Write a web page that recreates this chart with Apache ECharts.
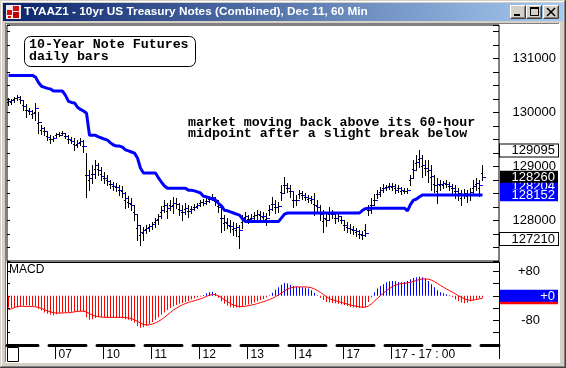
<!DOCTYPE html>
<html><head><meta charset="utf-8">
<script src="https://cdn.jsdelivr.net/npm/echarts@6/dist/echarts.min.js"></script>
<style>html,body{margin:0;padding:0;background:#fff}#c{width:566px;height:368px}</style>
</head><body><div id="c"></div>
<script>
// ---------- data ----------
const dayLabels = ['07','10','11','12','13','14','17','17 - 17 : 00'];
const dayStarts = [16,32,48,64,80,96,112,128];
const slotCount = 164;

const barHigh = [
130.27,130.25,130.29,130.32,130.31,130.23,130.16,130.08,130.05,130.18,
130.01,129.77,129.73,129.64,129.58,129.56,
129.62,129.64,129.66,129.62,129.58,129.55,129.53,129.49,129.53,129.49,129.25,128.94,129.03,129.12,129.07,128.99,
128.90,128.84,128.75,128.71,128.69,128.66,128.64,128.53,128.45,128.42,128.29,128.10,127.92,127.88,127.92,127.94,
127.97,128.05,128.12,128.27,128.38,128.32,128.38,128.43,128.42,128.32,128.29,128.32,128.29,128.27,128.30,128.32,
128.38,128.40,128.42,128.45,128.49,128.43,128.38,128.29,128.10,128.05,128.01,127.97,127.95,127.92,128.10,128.16,
128.10,128.12,128.16,128.19,128.18,128.16,128.14,128.29,128.43,128.38,128.34,128.66,128.80,128.69,128.66,128.53,
128.47,128.56,128.55,128.51,128.47,128.45,128.51,128.38,128.29,128.19,128.16,128.25,128.19,128.14,128.12,128.08,
128.01,127.97,127.94,127.90,127.86,127.82,127.81,127.94,128.29,128.42,128.49,128.56,128.62,128.68,128.66,128.69,
128.69,128.68,128.66,128.62,128.60,128.60,128.84,129.12,129.21,129.30,129.21,129.12,129.12,129.03,128.84,128.79,
128.75,128.73,128.75,128.71,128.68,128.66,128.60,128.56,128.58,128.56,128.60,128.75,128.79,128.75,129.03];

const barLow = [
130.14,130.16,130.20,130.23,130.18,130.05,129.92,129.97,129.90,129.86,
129.62,129.60,129.58,129.49,129.44,129.47,
129.55,129.57,129.58,129.53,129.44,129.44,129.31,129.36,129.40,129.27,128.44,128.57,128.69,128.79,128.84,128.75,
128.69,128.66,128.60,128.57,128.55,128.47,128.44,128.23,128.25,128.19,128.01,127.64,127.55,127.64,127.77,127.81,
127.84,127.88,127.94,128.05,128.16,128.05,128.19,128.14,128.23,128.10,128.01,128.12,128.06,128.14,128.19,128.23,
128.27,128.29,128.31,128.34,128.38,128.29,128.16,127.79,127.82,127.86,127.79,127.73,127.71,127.49,127.86,127.97,
127.95,127.97,128.01,128.01,128.03,127.97,127.92,128.10,128.19,128.14,128.16,128.38,128.51,128.53,128.44,128.25,
128.29,128.42,128.40,128.38,128.34,128.32,128.10,128.16,128.01,127.79,127.90,128.01,128.05,127.95,127.99,127.95,
127.82,127.79,127.77,127.75,127.71,127.68,127.66,127.71,128.10,128.14,128.29,128.42,128.45,128.53,128.57,128.58,
128.57,128.51,128.53,128.49,128.51,128.51,128.66,128.79,128.94,128.99,128.80,128.84,128.71,128.57,128.53,128.32,
128.57,128.60,128.62,128.57,128.51,128.42,128.38,128.29,128.42,128.34,128.38,128.47,128.57,128.45,128.75];

const barClose = [
130.21,130.23,130.27,130.29,130.23,130.12,130.05,130.03,129.99,130.08,
129.82,129.71,129.66,129.55,129.51,129.53,
129.60,129.58,129.62,129.57,129.51,129.47,129.40,129.44,129.47,129.38,128.84,128.79,128.86,129.03,128.94,128.83,
128.79,128.73,128.68,128.64,128.62,128.57,128.51,128.42,128.32,128.29,128.12,127.92,127.79,127.82,127.86,127.90,
127.94,128.01,128.08,128.19,128.29,128.23,128.27,128.32,128.30,128.19,128.16,128.23,128.17,128.21,128.25,128.29,
128.34,128.32,128.36,128.40,128.43,128.38,128.25,128.05,127.97,127.92,127.90,127.86,127.88,127.82,128.05,128.08,
128.03,128.05,128.10,128.12,128.08,128.08,128.05,128.21,128.30,128.25,128.27,128.51,128.66,128.60,128.55,128.38,
128.38,128.51,128.47,128.43,128.42,128.40,128.29,128.25,128.12,128.05,128.01,128.16,128.12,128.05,128.08,128.01,
127.92,127.86,127.84,127.82,127.81,127.75,127.73,127.77,128.19,128.29,128.38,128.49,128.57,128.60,128.62,128.64,
128.64,128.57,128.60,128.57,128.55,128.57,128.79,128.94,129.08,129.16,129.03,128.97,128.94,128.82,128.66,128.68,
128.68,128.69,128.68,128.64,128.60,128.55,128.51,128.47,128.51,128.47,128.53,128.64,128.69,128.66,128.81];

const midpoint = [
130.69,130.69,130.69,130.69,130.69,130.69,130.69,130.69,130.69,130.66,
130.56,130.49,130.47,130.45,130.44,130.40,130.40,130.40,130.40,130.32,
130.21,130.19,130.18,130.10,130.06,130.03,129.99,129.58,129.58,129.58,
129.55,129.53,129.51,129.49,129.44,129.40,129.38,129.38,129.36,129.31,
129.29,129.27,129.25,129.16,128.97,128.88,128.88,128.88,128.88,128.88,
128.79,128.71,128.64,128.60,128.60,128.60,128.60,128.60,128.60,128.60,
128.56,128.56,128.55,128.53,128.51,128.45,128.44,128.42,128.40,128.38,
128.32,128.27,128.19,128.18,128.16,128.14,128.12,128.10,128.03,127.98,
127.98,127.98,127.98,127.98,127.98,127.98,127.98,127.98,127.98,127.98,
127.98,128.05,128.12,128.14,128.14,128.14,128.14,128.14,128.14,128.14,
128.14,128.14,128.14,128.14,128.14,128.14,128.14,128.14,128.14,128.14,
128.14,128.14,128.14,128.14,128.14,128.14,128.14,128.14,128.19,128.22,
128.23,128.23,128.23,128.23,128.23,128.23,128.23,128.23,128.23,128.23,
128.23,128.23,128.23,128.18,128.30,128.38,128.40,128.44,128.475,128.475,
128.475,128.475,128.475,128.475,128.475,128.475,128.475,128.475,128.475,128.475,
128.475,128.475,128.475,128.475,128.475,128.475,128.475,128.475,128.475];

const macdHist = [
-38,-40,-40,-38,-34,-32,-31,-32,-33,-35,-42,-48,-54,-58,-62,-63,
-60,-57,-55,-54,-53,-52,-52,-50,-50,-52,-70,-78,-76,-72,-70,-70,
-70,-71,-72,-72,-72,-72,-73,-76,-78,-82,-88,-98,-104,-102,-97,-92,
-85,-78,-70,-62,-54,-46,-40,-34,-30,-26,-23,-20,-17,-12,-8,-5,
-2,3,8,12,13,8,-6,-18,-26,-32,-37,-39,-38,-38,-34,-31,
-28,-26,-22,-18,-14,-10,-5,2,10,20,28,36,42,40,36,32,
30,29,28,26,24,18,10,2,-6,-14,-20,-22,-23,-24,-26,-28,
-30,-33,-36,-38,-39,-40,-40,-36,-20,-5,12,24,32,38,44,47,
48,47,45,44,45,48,54,58,60,62,60,56,48,38,28,18,
12,8,5,2,-4,-12,-18,-22,-24,-22,-18,-14,-12,-8,-6];

const macdSignal = [
-45,-42,-38,-35,-34,-34,-35,-35,-35,-36,-38,-41,-45,-49,-52,-55,
-56,-56,-56,-55,-55,-54,-52,-51,-50,-50,-53,-58,-63,-66,-68,-69,
-70,-70,-70,-70,-70,-70,-70,-71,-72,-74,-78,-83,-89,-93,-95,-94,
-92,-88,-83,-77,-70,-62,-54,-46,-40,-34,-29,-25,-21,-19,-16,-13,
-10,-6,-2,2,4,4,0,-6,-13,-19,-25,-30,-33,-35,-35,-34,
-32,-30,-28,-25,-22,-19,-16,-12,-8,-3,3,9,16,22,26,28,
29,29,29,29,28,26,22,17,11,4,-3,-9,-13,-16,-19,-22,
-24,-27,-30,-32,-34,-36,-37,-37,-33,-26,-17,-8,1,9,17,24,
30,35,38,40,41,42,44,47,50,53,55,55,54,51,46,40,
34,28,22,17,12,6,0,-5,-10,-13,-15,-14,-12,-10,-8];

const priceTagValues = [128.6375, 129.297, 128.8125, 128.475, 127.656];
const priceTagTexts  = ['128204', '129095', '128260', '128152', '127210'];
const macdTagValues = [-8, 0];
const macdTagTexts  = ['-8', '+0'];

// ---------- build ----------
const categories = Array.from({length: slotCount}, (_, i) => {
  const k = dayStarts.indexOf(i); return k >= 0 ? dayLabels[k] : '';
});
const barRows = barHigh.map((h, i) => [i, h, barLow[i], barClose[i]]);

const FONT = 'Liberation Sans';
const MONO = 'Liberation Mono';

function tag(v, text, bg, fg, border) {
  return {
    yAxis: v,
    lineStyle: {color: 'rgba(0,0,0,0)', width: 1},
    label: {
      show: true, position: 'end', distance: 1,
      formatter: '{t|' + text + '}',
      backgroundColor: bg, borderColor: border || bg, borderWidth: border ? 1 : 0,
      padding: [1, 3, 0, 1],
      rich: {t: {width: 54, align: 'right', fontSize: 13, lineHeight: 11, color: fg, fontFamily: FONT}}
    }
  };
}

const chart = echarts.init(document.getElementById('c'), null, {renderer: 'canvas'});
const isLabelSlot = (idx, val) => val !== '';

chart.setOption({
  animation: false,
  backgroundColor: '#ffffff',
  grid: [
    {left: 7, top: 25, width: 492, height: 236, show: true, borderColor: '#000', borderWidth: 1, backgroundColor: 'transparent'},
    {left: 7, top: 262, width: 492, height: 83, show: false}
  ],
  xAxis: [
    {type: 'category', gridIndex: 0, data: categories, boundaryGap: true,
     axisLine: {show: false, onZero: false}, axisTick: {show: false}, axisLabel: {show: false}, splitLine: {show: false}},
    {type: 'category', gridIndex: 1, data: categories, boundaryGap: true, position: 'bottom',
     axisLine: {show: true, onZero: false, lineStyle: {color: '#000', width: 3, type: [37, 11], dashOffset: 6}},
     axisTick: {show: true, interval: isLabelSlot, length: 14, lineStyle: {color: '#000', width: 1}},
     axisLabel: {show: true, interval: isLabelSlot, align: 'left', margin: 4, padding: [0, 0, 0, 2],
                 fontSize: 12, color: '#000', fontFamily: FONT},
     splitLine: {show: false}},
    {type: 'category', gridIndex: 1, data: categories, boundaryGap: true, position: 'top',
     axisLine: {show: true, onZero: false, lineStyle: {color: '#000', width: 1}},
     axisTick: {show: false}, axisLabel: {show: false}, splitLine: {show: false}}
  ],
  yAxis: [
    {type: 'value', gridIndex: 0, position: 'right', min: 127.25, max: 131.625, interval: 0.25,
     axisLine: {show: false}, splitLine: {show: false},
     axisTick: {show: true, inside: true, length: 6, lineStyle: {color: '#000'}},
     axisLabel: {show: true, margin: 57, align: 'right', fontSize: 13, color: '#000', fontFamily: FONT,
       formatter: v => Math.abs(v - Math.round(v)) < 1e-9 ? Math.round(v) + '000' : ''}},
    {type: 'value', gridIndex: 0, position: 'left', min: 127.25, max: 131.625, interval: 0.25,
     axisLine: {show: false}, splitLine: {show: false}, axisLabel: {show: false},
     axisTick: {show: true, inside: true, length: 3, lineStyle: {color: '#000'}}},
    {type: 'value', gridIndex: 1, position: 'right', min: -160, max: 110, interval: 40,
     axisLine: {show: true, lineStyle: {color: '#000'}}, splitLine: {show: false},
     axisTick: {show: true, inside: true, length: 6, lineStyle: {color: '#000'}},
     axisLabel: {show: true, margin: 41, align: 'right', fontSize: 13, color: '#000', fontFamily: FONT,
       formatter: v => v === 80 ? '+80' : (v === -80 ? '-80' : '')}},
    {type: 'value', gridIndex: 1, position: 'left', min: -160, max: 110, interval: 40,
     axisLine: {show: true, lineStyle: {color: '#000'}}, splitLine: {show: false}, axisLabel: {show: false},
     axisTick: {show: true, inside: true, length: 3, lineStyle: {color: '#000'}}}
  ],
  series: [
    {type: 'custom', name: 'price', xAxisIndex: 0, yAxisIndex: 0, data: barRows,
     encode: {x: 0, y: [1, 2, 3]}, silent: true,
     renderItem: function (params, api) {
       const i = api.value(0);
       const hi = api.coord([i, api.value(1)]);
       const lo = api.coord([i, api.value(2)]);
       const cl = api.coord([i, api.value(3)]);
       const x = hi[0];
       const cy = Math.round(cl[1]) + 0.5;
       return {type: 'group', children: [
         {type: 'line', shape: {x1: x, y1: Math.round(hi[1]), x2: x, y2: Math.round(lo[1]) + 1},
          style: {stroke: '#000', lineWidth: 1}},
         {type: 'line', shape: {x1: x - 1.5, y1: Math.round((hi[1] + lo[1]) / 2) + 0.5, x2: x, y2: Math.round((hi[1] + lo[1]) / 2) + 0.5},
          style: {stroke: '#000', lineWidth: 1}},
         {type: 'line', shape: {x1: x + 0.5, y1: cy, x2: x + 3.5, y2: cy},
          style: {stroke: '#0000ff', lineWidth: 1}}
       ]};
     }},
    {type: 'line', name: 'midpoint', xAxisIndex: 0, yAxisIndex: 0, data: midpoint, symbol: 'none',
     lineStyle: {color: '#0000ff', width: 3}, silent: true, z: 3,
     markLine: {silent: true, symbol: ['none', 'none'], animation: false,
       data: [
         tag(priceTagValues[0], priceTagTexts[0], '#0000ff', '#fff'),
         tag(priceTagValues[1], priceTagTexts[1], '#fff', '#000', '#000'),
         tag(priceTagValues[2], priceTagTexts[2], '#000', '#fff'),
         tag(priceTagValues[3], priceTagTexts[3], '#0000ff', '#fff'),
         tag(priceTagValues[4], priceTagTexts[4], '#fff', '#000', '#000')
       ]}},
    {type: 'bar', name: 'macd', xAxisIndex: 1, yAxisIndex: 2, data: macdHist, barWidth: 1, silent: true,
     itemStyle: {color: p => p.value >= 0 ? '#0000ff' : '#ff0000'}},
    {type: 'line', name: 'signal', xAxisIndex: 1, yAxisIndex: 2, data: macdSignal, symbol: 'none',
     lineStyle: {color: '#ff0000', width: 1}, silent: true, z: 3,
     markLine: {silent: true, symbol: ['none', 'none'], animation: false,
       data: [
         tag(macdTagValues[0], macdTagTexts[0], '#ff0000', '#fff'),
         tag(macdTagValues[1], macdTagTexts[1], '#0000ff', '#fff')
       ]}}
  ],
  graphic: [
    // window frame
    {type: 'rect', silent: true, shape: {x: 0, y: 0, width: 566, height: 24}, style: {fill: '#d4d0c8'}},
    {type: 'rect', silent: true, shape: {x: 0, y: 0, width: 6, height: 368}, style: {fill: '#d4d0c8'}},
    {type: 'rect', silent: true, shape: {x: 559, y: 0, width: 7, height: 368}, style: {fill: '#d4d0c8'}},
    {type: 'rect', silent: true, shape: {x: 0, y: 362, width: 566, height: 6}, style: {fill: '#d4d0c8'}},
    {type: 'line', silent: true, shape: {x1: 1.5, y1: 1, x2: 1.5, y2: 367}, style: {stroke: '#ffffff'}},
    {type: 'line', silent: true, shape: {x1: 1, y1: 1.5, x2: 565, y2: 1.5}, style: {stroke: '#ffffff'}},
    {type: 'line', silent: true, shape: {x1: 565.5, y1: 0, x2: 565.5, y2: 368}, style: {stroke: '#404040'}},
    {type: 'line', silent: true, shape: {x1: 0, y1: 367.5, x2: 566, y2: 367.5}, style: {stroke: '#404040'}},
    {type: 'line', silent: true, shape: {x1: 564.5, y1: 1, x2: 564.5, y2: 367}, style: {stroke: '#808080'}},
    {type: 'line', silent: true, shape: {x1: 1, y1: 366.5, x2: 565, y2: 366.5}, style: {stroke: '#808080'}},
    {type: 'line', silent: true, shape: {x1: 5.5, y1: 23, x2: 5.5, y2: 363}, style: {stroke: '#808080'}},
    {type: 'line', silent: true, shape: {x1: 5, y1: 23.5, x2: 560, y2: 23.5}, style: {stroke: '#808080'}},
    {type: 'line', silent: true, shape: {x1: 559.5, y1: 23, x2: 559.5, y2: 363}, style: {stroke: '#ffffff'}},
    {type: 'line', silent: true, shape: {x1: 5, y1: 362.5, x2: 560, y2: 362.5}, style: {stroke: '#ffffff'}},
    // title bar
    {type: 'rect', silent: true, shape: {x: 3, y: 3, width: 560, height: 18},
     style: {fill: new echarts.graphic.LinearGradient(0, 0, 1, 0, [{offset: 0, color: '#0a246a'}, {offset: 1, color: '#a6caf0'}])}},
    {type: 'text', silent: true, x: 24, y: 12,
     style: {text: 'TYAAZ1 - 10yr US Treasury Notes (Combined), Dec 11, 60 Min', fill: '#fff',
             fontFamily: FONT, fontWeight: 'bold', fontSize: 11.8, verticalAlign: 'middle'}},
    // icon
    {type: 'rect', silent: true, shape: {x: 6, y: 5, width: 15, height: 14}, style: {fill: '#f4e8e8'}},
    {type: 'rect', silent: true, shape: {x: 7, y: 10, width: 5, height: 5}, style: {fill: '#d01010'}},
    {type: 'rect', silent: true, shape: {x: 13, y: 6, width: 6, height: 5}, style: {fill: '#d01010'}},
    {type: 'rect', silent: true, shape: {x: 13, y: 12, width: 6, height: 6}, style: {fill: '#c00000'}},
    {type: 'rect', silent: true, shape: {x: 8, y: 16, width: 3, height: 2}, style: {fill: '#d01010'}},
    // buttons
    ...[510, 526, 543].flatMap(bx => [
      {type: 'rect', silent: true, shape: {x: bx, y: 5, width: 16, height: 14}, style: {fill: '#d4d0c8'}},
      {type: 'polyline', silent: true, shape: {points: [[bx + 0.5, 18.5], [bx + 0.5, 5.5], [bx + 15.5, 5.5]]}, style: {stroke: '#ffffff', fill: null}},
      {type: 'polyline', silent: true, shape: {points: [[bx + 0.5, 18.5], [bx + 15.5, 18.5], [bx + 15.5, 5.5]]}, style: {stroke: '#404040', fill: null}},
      {type: 'polyline', silent: true, shape: {points: [[bx + 1.5, 17.5], [bx + 14.5, 17.5], [bx + 14.5, 6.5]]}, style: {stroke: '#808080', fill: null}}
    ]),
    {type: 'rect', silent: true, shape: {x: 514, y: 14, width: 6, height: 2}, style: {fill: '#000'}},
    {type: 'rect', silent: true, shape: {x: 530.5, y: 7.5, width: 8, height: 8}, style: {fill: null, stroke: '#000', lineWidth: 1}},
    {type: 'rect', silent: true, shape: {x: 530, y: 7, width: 9, height: 2}, style: {fill: '#000'}},
    {type: 'line', silent: true, shape: {x1: 547, y1: 8, x2: 555, y2: 16}, style: {stroke: '#000', lineWidth: 1.6}},
    {type: 'line', silent: true, shape: {x1: 555, y1: 8, x2: 547, y2: 16}, style: {stroke: '#000', lineWidth: 1.6}},
    // scroll box bottom-left
    {type: 'rect', silent: true, z: 20, shape: {x: 7.5, y: 347.5, width: 11, height: 14}, style: {fill: '#fff', stroke: '#000', lineWidth: 1}},
    // annotation box
    {type: 'rect', silent: true, z: 20, shape: {x: 24.5, y: 36.5, width: 171, height: 30, r: 6},
     style: {fill: '#fff', stroke: '#000', lineWidth: 1}},
    {type: 'text', silent: true, z: 21, x: 29, y: 39,
     style: {text: '10-Year Note Futures\ndaily bars', fill: '#000', fontFamily: MONO, fontWeight: 'bold',
             fontSize: 13.3, lineHeight: 12, verticalAlign: 'top'}},
    {type: 'text', silent: true, z: 21, x: 188, y: 117,
     style: {text: 'market moving back above its 60-hour\nmidpoint after a slight break below', fill: '#000',
             fontFamily: MONO, fontWeight: 'bold', fontSize: 13.3, lineHeight: 11, verticalAlign: 'top'}},
    {type: 'text', silent: true, z: 21, x: 9, y: 264,
     style: {text: 'MACD', fill: '#000', fontFamily: FONT, fontSize: 12, verticalAlign: 'top'}}
  ]
});
</script>
</body></html>
